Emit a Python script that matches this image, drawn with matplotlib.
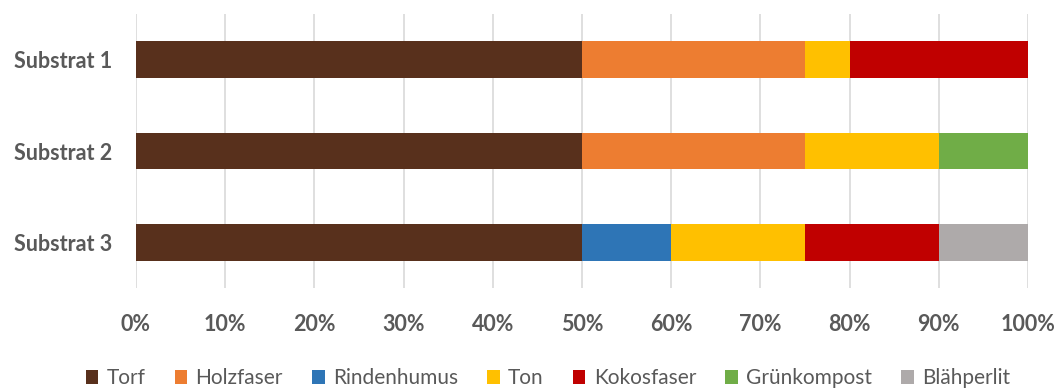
import numpy as np
import matplotlib
matplotlib.use("Agg")
import matplotlib.pyplot as plt
from matplotlib.ticker import PercentFormatter

plt.rcParams["font.family"] = ["Lato", "DejaVu Sans"]

substrates = ["Substrat 1", "Substrat 2", "Substrat 3"]
components = ["Torf", "Holzfaser", "Rindenhumus", "Ton", "Kokosfaser", "Grünkompost", "Blähperlit"]
# share in percent per substrate, in component order
torf = [50, 50, 50]
holzfaser = [25, 25, 0]
rindenhumus = [0, 0, 10]
ton = [5, 15, 15]
kokosfaser = [20, 0, 15]
gruenkompost = [0, 10, 0]
blaehperlit = [0, 0, 10]

colors = ["#58301C", "#ED7D31", "#2E75B6", "#FFC000", "#C00000", "#70AD47", "#AEAAAA"]
TXT = "#595959"

series = [torf, holzfaser, rindenhumus, ton, kokosfaser, gruenkompost, blaehperlit]

fig = plt.figure(figsize=(10.6, 3.9), dpi=100)
ax = fig.add_axes([0.1283, 0.2615, 0.8415, 0.7025])

y = np.arange(len(substrates))
left = np.zeros(len(substrates))
for name, vals, c in zip(components, series, colors):
    vals = np.asarray(vals, dtype=float)
    ax.barh(y, vals, left=left, height=0.4, color=c, label=name, zorder=3)
    left += vals

ax.set_xlim(0, 100)
ax.set_ylim(len(substrates) - 0.5, -0.5)
ax.set_yticks(y, substrates)
ax.set_xticks(np.arange(0, 101, 10))
ax.xaxis.set_major_formatter(PercentFormatter(decimals=0))
ax.tick_params(axis="both", length=0, labelsize=15.5, labelcolor=TXT)
ax.tick_params(axis="x", pad=19)
ax.tick_params(axis="y", pad=17)
for lab in ax.get_xticklabels() + ax.get_yticklabels():
    lab.set_fontweight("bold")
ax.grid(axis="x", color="#D9D9D9", lw=1.2, zorder=0)
for s in ax.spines.values():
    s.set_visible(False)

fig.legend(loc="center", bbox_to_anchor=(0.517, 0.03), ncol=7, frameon=False,
           fontsize=15, labelcolor=TXT, handlelength=0.6, handleheight=0.6,
           handletextpad=0.4, columnspacing=1.4)

fig.savefig("out.png", dpi=100)
